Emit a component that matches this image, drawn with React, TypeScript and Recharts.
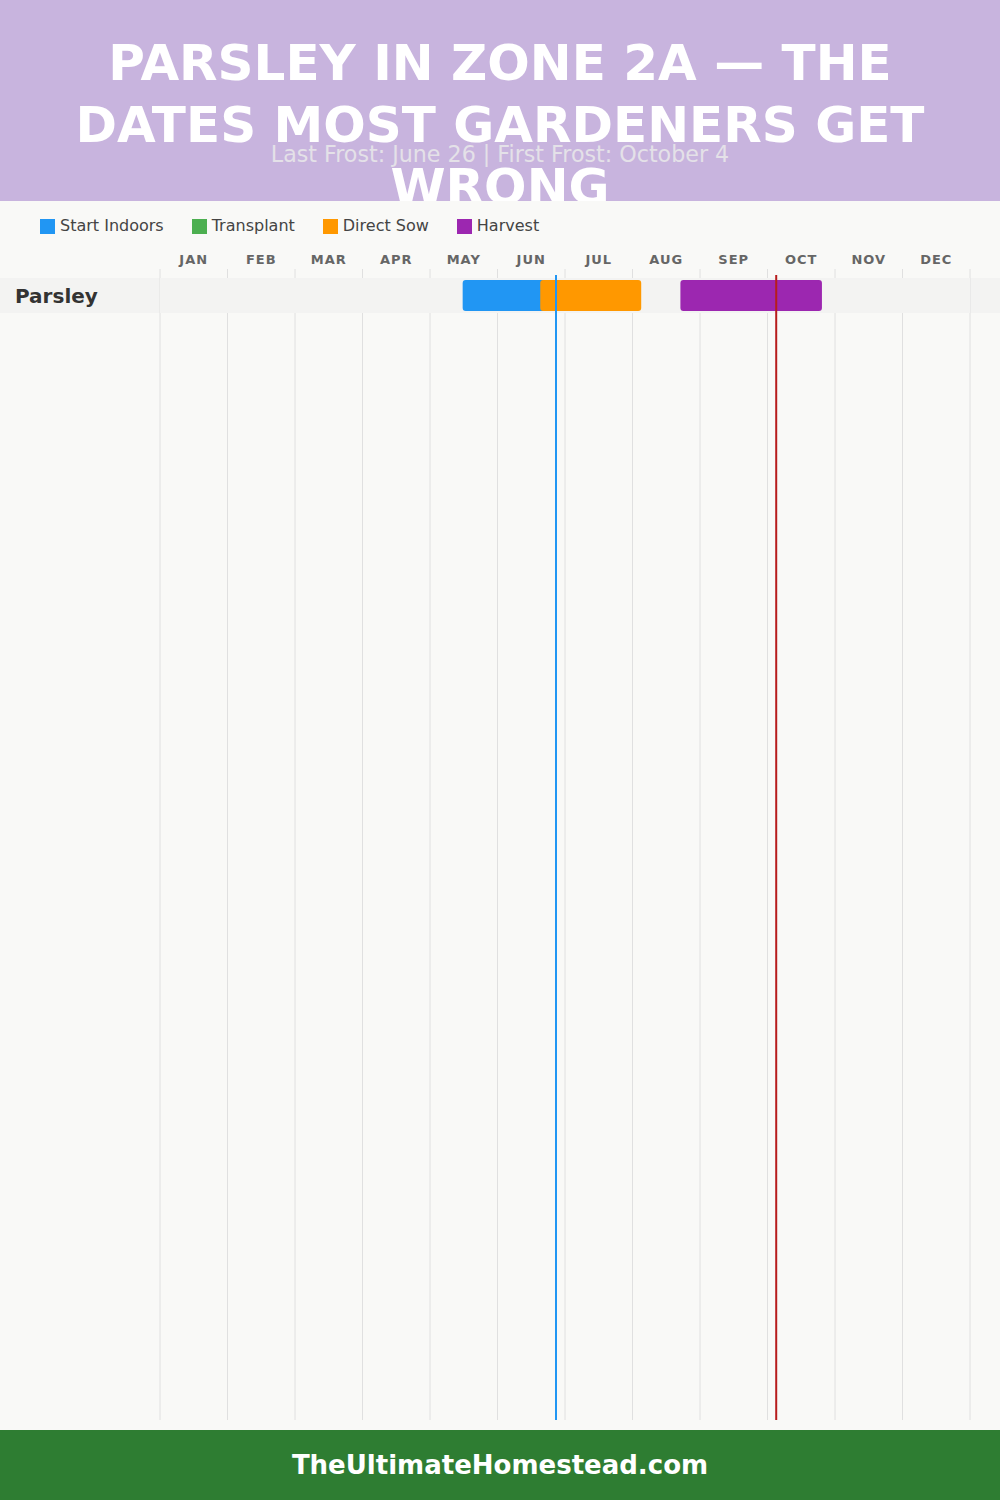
import React from 'react';
import { BarChart, Bar, XAxis, YAxis, CartesianGrid, ReferenceLine, ReferenceArea } from 'recharts';

// [month, day] pairs
const months = ['JAN', 'FEB', 'MAR', 'APR', 'MAY', 'JUN', 'JUL', 'AUG', 'SEP', 'OCT', 'NOV', 'DEC'];
const daysInMonth = [31, 28, 31, 30, 31, 30, 31, 31, 30, 31, 30, 31];
const crops = ['Parsley'];
const startIndoors = [[[5, 15], [6, 26]]];
const transplant = [null];
const directSow = [[[6, 19], [8, 4]]];
const harvest = [[[8, 22], [10, 25]]];
const lastFrost = [6, 26];
const firstFrost = [10, 4];

const series = [
  { key: 'startIndoors', label: 'Start Indoors', color: '#2196F3', ranges: startIndoors },
  { key: 'transplant', label: 'Transplant', color: '#4CAF50', ranges: transplant },
  { key: 'directSow', label: 'Direct Sow', color: '#FF9800', ranges: directSow },
  { key: 'harvest', label: 'Harvest', color: '#9C27B0', ranges: harvest },
];

const toPos = ([m, d]: number[]) => m - 1 + d / daysInMonth[m - 1];

const rows = crops.map((name, i) => {
  const row: any = { name };
  series.forEach((s) => {
    const r = s.ranges[i];
    row[s.key] = r ? [toPos(r[0]), toPos(r[1])] : null;
  });
  return row;
});

const monthTicks = months.map((_, i) => i + 0.5);
const monthEdges = months.map((_, i) => i).concat(12);

const FONT = '"DejaVu Sans", sans-serif';

const CropTick = ({ y, payload }: any) => (
  <text x={15} y={y} dy={7} textAnchor="start" fontFamily={FONT} fontSize={20} fontWeight={700} fill="#333">
    {payload.value}
  </text>
);

// frost markers start a little below the month labels
const frostLine = (color: string) => (p: any) => (
  <line
    x1={p.x1}
    x2={p.x2}
    y1={Math.min(p.y1, p.y2) + 6}
    y2={Math.max(p.y1, p.y2)}
    stroke={color}
    strokeWidth={2}
  />
);

export default function App() {
  return (
    <div style={{ position: 'relative', width: 1000, height: 1500, background: '#F9F9F7', overflow: 'hidden', fontFamily: FONT }}>
      <style>{'body{margin:0}'}</style>

      <div style={{ position: 'absolute', left: 0, top: 0, width: 1000, height: 201, background: '#C8B4DE', overflow: 'hidden', zIndex: 2 }}>
        <div
          style={{
            position: 'absolute',
            left: 40,
            top: 32,
            width: 920,
            textAlign: 'center',
            color: '#fff',
            fontSize: 50,
            fontWeight: 700,
            lineHeight: '62px',
            textTransform: 'uppercase',
          }}
        >
          Parsley in Zone 2a — The Dates Most Gardeners Get Wrong
        </div>
        <div
          style={{
            position: 'absolute',
            left: 0,
            top: 141,
            width: 1000,
            textAlign: 'center',
            color: '#E4E1E8',
            fontSize: 22.2,
            lineHeight: '26px',
          }}
        >
          Last Frost: June 26 | First Frost: October 4
        </div>
      </div>

      <div style={{ position: 'absolute', left: 40, top: 216, display: 'flex', alignItems: 'center', zIndex: 2 }}>
        {series.map((s) => (
          <div key={s.key} style={{ display: 'flex', alignItems: 'center', marginRight: 28 }}>
            <div style={{ width: 15, height: 15, background: s.color, marginRight: 5 }} />
            <span style={{ fontSize: 16, lineHeight: '20px', color: '#444' }}>{s.label}</span>
          </div>
        ))}
      </div>

      <div style={{ position: 'absolute', left: 0, top: 278, width: 1000, height: 35, background: '#F3F3F2' }} />

      <div style={{ position: 'absolute', left: 0, top: 200 }}>
        <BarChart
          width={1000}
          height={1230}
          layout="vertical"
          data={rows}
          margin={{ top: 39, right: 30, bottom: 10, left: 0 }}
          barGap={-31}
        >
          <CartesianGrid horizontal={false} verticalValues={monthEdges} stroke="#E0E0E0" />
          <XAxis
            type="number"
            orientation="top"
            domain={[0, 12]}
            ticks={monthTicks}
            interval={0}
            tickFormatter={(v) => months[Math.floor(v)]}
            axisLine={false}
            tickLine={false}
            tick={{ fontSize: 13, fontWeight: 700, fill: '#666', fontFamily: FONT, letterSpacing: 1, dy: 3 }}
          />
          <YAxis
            type="category"
            dataKey="name"
            width={160}
            axisLine={false}
            tickLine={false}
            padding={{ top: 9, bottom: 1107 }}
            tick={<CropTick />}
          />
          <ReferenceArea y1="Parsley" y2="Parsley" fill="#F3F3F2" fillOpacity={1} stroke="none" />
          {series.map((s) => (
            <Bar key={s.key} dataKey={s.key} name={s.label} fill={s.color} barSize={31} radius={3} isAnimationActive={false} />
          ))}
          <ReferenceLine x={toPos(lastFrost)} stroke="#2196F3" strokeWidth={2} shape={frostLine('#2196F3')} />
          <ReferenceLine x={toPos(firstFrost)} stroke="#B71C1C" strokeWidth={2} shape={frostLine('#B71C1C')} />
        </BarChart>
      </div>

      <div
        style={{
          position: 'absolute',
          left: 0,
          top: 1430,
          width: 1000,
          height: 70,
          background: '#2E7D32',
          color: '#fff',
          fontSize: 26,
          fontWeight: 700,
          lineHeight: '70px',
          textAlign: 'center',
          zIndex: 2,
        }}
      >
        TheUltimateHomestead.com
      </div>
    </div>
  );
}
